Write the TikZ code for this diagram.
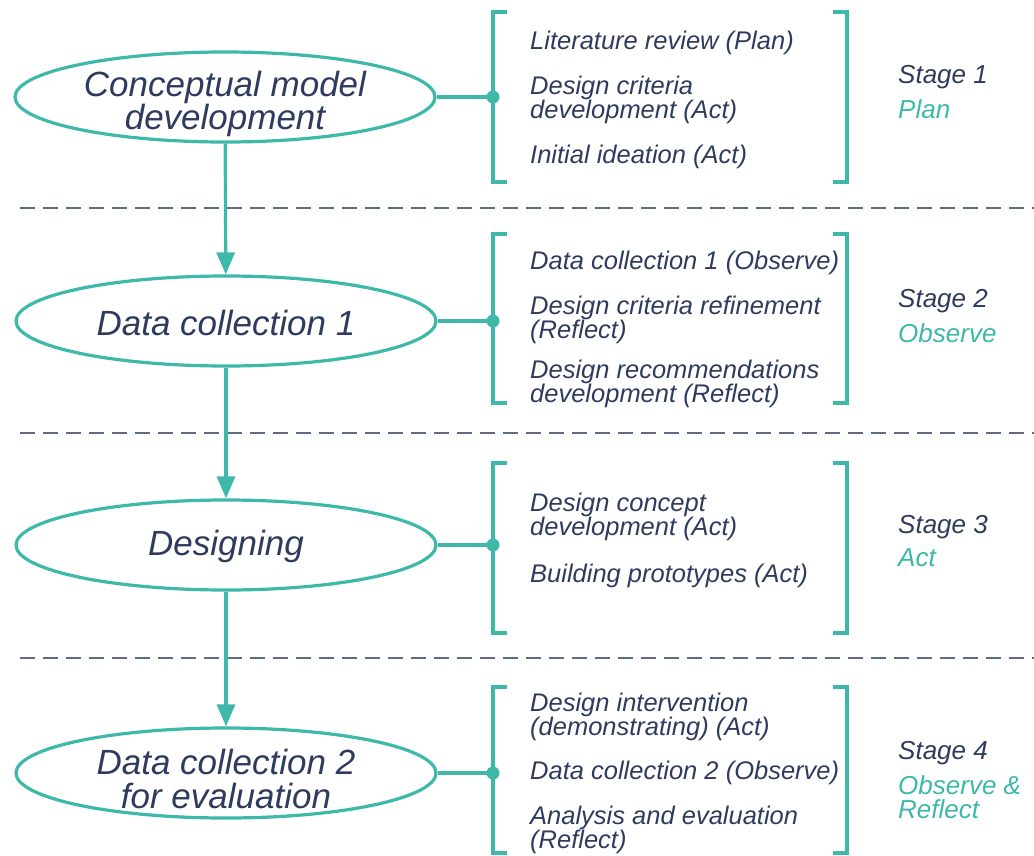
\documentclass[tikz,border=0pt]{standalone}
\usepackage{fontspec}
\setmainfont{Liberation Sans}
\usetikzlibrary{arrows.meta,shapes.geometric}
\definecolor{teal1}{HTML}{3DB8A9}
\definecolor{navy}{HTML}{2F3B5E}
\definecolor{dashc}{HTML}{5F6B86}
\tikzset{
  phase/.style={ellipse, draw=teal1, line width=3.2pt, minimum width=420pt, minimum height=90pt, inner sep=0pt},
  phasetext/.style={align=center, inner sep=0pt, text=navy, font=\fontsize{35}{31}\selectfont\itshape},
  item/.style={anchor=west, align=left, inner sep=0pt, text=navy, font=\fontsize{25.5}{23.5}\selectfont\itshape},
  stagelbl/.style={anchor=west, align=left, inner sep=0pt, text=navy, font=\fontsize{26}{24}\selectfont\itshape},
  link/.style={draw=teal1, line width=3.2pt},
  flow/.style={draw=teal1, line width=3.2pt, -{Triangle[width=18pt,length=22pt]}},
  brk/.style={draw=teal1, line width=3.6pt},
  sep/.style={draw=dashc, line width=1.8pt, dash pattern=on 15pt off 8pt},
  dotc/.style={circle, fill=teal1, inner sep=0pt, minimum size=13pt}
}
\begin{document}
\begin{tikzpicture}[x=1pt,y=-1pt]
\useasboundingbox (0,0) rectangle (1034,855);
% separators
\coordinate (s1a) at (20,208); \coordinate (s1b) at (1034,208);
\coordinate (s2a) at (20,433); \coordinate (s2b) at (1034,433);
\coordinate (s3a) at (20,658); \coordinate (s3b) at (1034,658);
\draw[sep] (s1a) -- (s1b);
\draw[sep] (s2a) -- (s2b);
\draw[sep] (s3a) -- (s3b);
% phases
\node[phase] (e1) at (225,97) {};
\node[phase] (e2) at (226,321) {};
\node[phase] (e3) at (226,545) {};
\node[phase] (e4) at (226,773) {};
\node[phasetext] (t1) at ([yshift=-7pt]e1.center) {Conceptual model\\development};
\node[phasetext] (t2) at ([yshift=-2pt]e2.center) {Data collection 1};
\node[phasetext] (t3) at ([yshift=-1pt]e3.center) {Designing};
\node[phasetext, font=\fontsize{35}{34}\selectfont\itshape] (t4) at ([yshift=-6pt]e4.center) {Data collection 2\\for evaluation};
\draw[flow] (e1) -- (e2);
\draw[flow] (e2) -- (e3);
\draw[flow] (e3) -- (e4);
% brackets
\foreach \t/\b in {12/182, 234/403, 463/633, 687/853}{
  \draw[brk] (507,\t) -- (493,\t) -- (493,\b) -- (507,\b);
  \draw[brk] (833,\t) -- (847,\t) -- (847,\b) -- (833,\b);
}
\node[dotc] (d1) at (493,97) {};
\node[dotc] (d2) at (493,321) {};
\node[dotc] (d3) at (493,545) {};
\node[dotc] (d4) at (493,773) {};
\draw[link] (e1.east) -- (d1.center);
\draw[link] (e2.east) -- (d2.center);
\draw[link] (e3.east) -- (d3.center);
\draw[link] (e4.east) -- (d4.center);
% items stage 1
\node[item] (i11) at (530,43) {Literature review (Plan)};
\node[item] (i12) at (530,100) {Design criteria\\development (Act)};
\node[item] (i13) at (530,157) {Initial ideation (Act)};
% stage 2
\node[item] (i21) at (530,263) {Data collection 1 (Observe)};
\node[item] (i22) at (530,320) {Design criteria refinement\\(Reflect)};
\node[item] (i23) at (530,384) {Design recommendations\\development (Reflect)};
% stage 3
\node[item] (i31) at (530,517) {Design concept\\development (Act)};
\node[item] (i32) at (530,576) {Building prototypes (Act)};
% stage 4
\node[item] (i41) at (530,717) {Design intervention\\(demonstrating) (Act)};
\node[item] (i42) at (530,773) {Data collection 2 (Observe)};
\node[item] (i43) at (530,830) {Analysis and evaluation\\(Reflect)};
% stage labels
\node[stagelbl] (st1) at (898,92) {Stage 1\\[9pt]\textcolor{teal1}{Plan}};
\node[stagelbl] (st2) at (898,316) {Stage 2\\[9pt]\textcolor{teal1}{Observe}};
\node[stagelbl] (st3) at (898,541) {Stage 3\\[9pt]\textcolor{teal1}{Act}};
\node[stagelbl] (st4) at (898,780) {Stage 4\\[9pt]\textcolor{teal1}{Observe \&}\\\textcolor{teal1}{Reflect}};
\end{tikzpicture}
\end{document}
